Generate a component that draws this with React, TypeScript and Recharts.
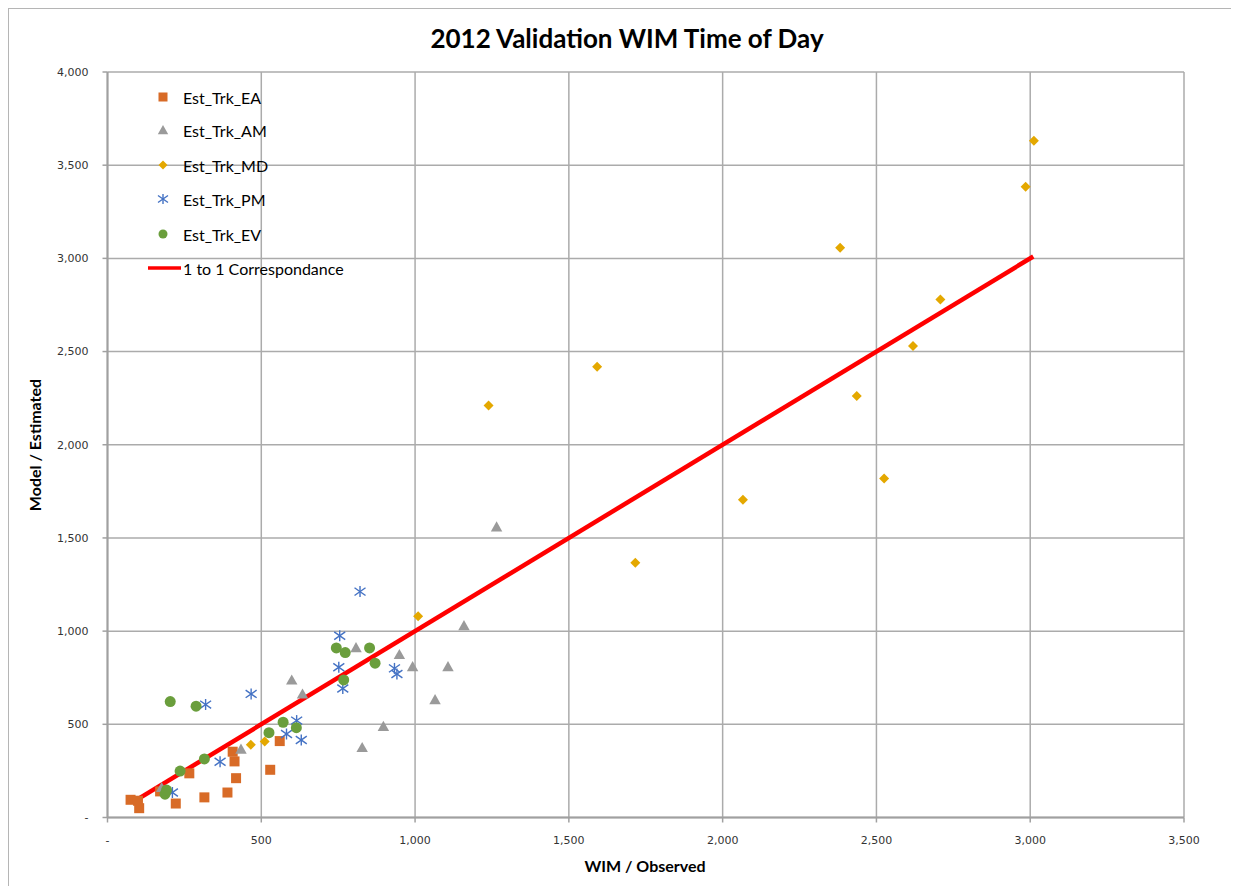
import React from 'react';
import { ScatterChart, Scatter, XAxis, YAxis, CartesianGrid } from 'recharts';

const X_TICKS = [0, 500, 1000, 1500, 2000, 2500, 3000, 3500];
const Y_TICKS = [0, 500, 1000, 1500, 2000, 2500, 3000, 3500, 4000];

const EA_X = [75, 99, 103, 171, 222, 266, 315, 390, 407, 413, 418, 529, 560];
const EA_Y = [95, 90, 50, 140, 75, 237, 108, 134, 353, 301, 211, 256, 410];

const AM_X = [176, 434, 599, 634, 808, 828, 897, 949, 992, 1065, 1107, 1159, 1265];
const AM_Y = [161, 367, 738, 663, 912, 376, 489, 875, 810, 633, 810, 1030, 1560];

const MD_X = [466, 511, 1010, 1239, 1592, 1716, 2066, 2382, 2436, 2525, 2619, 2708, 2985, 3012];
const MD_Y = [391, 408, 1080, 2211, 2418, 1367, 1705, 3057, 2261, 1819, 2530, 2780, 3384, 3631];

const PM_X = [211, 319, 366, 467, 582, 615, 630, 752, 755, 765, 821, 933, 941];
const PM_Y = [134, 606, 299, 663, 448, 520, 416, 806, 975, 692, 1212, 800, 770];

const EV_X = [187, 192, 204, 236, 288, 315, 525, 571, 614, 744, 773, 768, 852, 870];
const EV_Y = [125, 147, 622, 249, 597, 314, 455, 511, 482, 910, 885, 738, 910, 828];

const LINE_X = [100, 3010];
const LINE_Y = [100, 3010];

const SERIES_NAMES = ['Est_Trk_EA', 'Est_Trk_AM', 'Est_Trk_MD', 'Est_Trk_PM', 'Est_Trk_EV', '1 to 1 Correspondance'];

const C_EA = '#D86B27';
const C_AM = '#9A9A9A';
const C_MD = '#E4A800';
const C_PM = '#4472C4';
const C_EV = '#6A9E3C';
const C_LINE = '#FF0000';

const toPoints = (xs: number[], ys: number[]) => xs.map((x, i) => ({ x, y: ys[i] }));

const fmt = (v: number) => (v === 0 ? '-' : v.toLocaleString('en-US'));

const SquareMark = ({ cx, cy, s = 10 }: any) => <rect x={cx - s / 2} y={cy - s / 2} width={s} height={s} fill={C_EA} />;
const TriMark = ({ cx, cy, s = 11 }: any) => (
  <polygon points={`${cx},${cy - s * 0.5} ${cx + s * 0.52},${cy + s * 0.42} ${cx - s * 0.52},${cy + s * 0.42}`} fill={C_AM} />
);
const DiamondMark = ({ cx, cy, s = 10 }: any) => (
  <polygon points={`${cx},${cy - s / 2} ${cx + s / 2},${cy} ${cx},${cy + s / 2} ${cx - s / 2},${cy}`} fill={C_MD} />
);
const StarMark = ({ cx, cy, s = 11 }: any) => {
  const h = s / 2;
  return (
    <g stroke={C_PM} strokeWidth={1.4}>
      <line x1={cx} y1={cy - h} x2={cx} y2={cy + h} />
      <line x1={cx - h} y1={cy - h * 0.7} x2={cx + h} y2={cy + h * 0.7} />
      <line x1={cx - h} y1={cy + h * 0.7} x2={cx + h} y2={cy - h * 0.7} />
    </g>
  );
};
const CircleMark = ({ cx, cy, s = 11 }: any) => <circle cx={cx} cy={cy} r={s / 2} fill={C_EV} />;

const guard = (Comp: any) => (props: any) =>
  props.cx == null || props.cy == null ? <g /> : <Comp cx={props.cx} cy={props.cy} />;

const LegendRow = ({ top, name, mark }: any) => (
  <div style={{ position: 'absolute', left: 128, top: top - 12, height: 24, display: 'flex', alignItems: 'center' }}>
    <svg width={46} height={24} style={{ display: 'block' }}>{mark}</svg>
    <span style={{ fontFamily: 'Lato, "Open Sans", sans-serif', fontSize: 16, color: '#000', whiteSpace: 'nowrap' }}>{name}</span>
  </div>
);

export default function App() {
  const ea = toPoints(EA_X, EA_Y);
  const am = toPoints(AM_X, AM_Y);
  const md = toPoints(MD_X, MD_Y);
  const pm = toPoints(PM_X, PM_Y);
  const ev = toPoints(EV_X, EV_Y);
  const ln = toPoints(LINE_X, LINE_Y);

  const tickStyle = { fontFamily: '"DejaVu Sans", Verdana, sans-serif', fontSize: 11, fill: '#333' };
  const legendTops = [88, 121, 156, 190, 225, 259];

  return (
    <div
      style={{
        position: 'relative',
        width: 1231,
        height: 878,
        boxSizing: 'border-box',
        borderTop: '1px solid #b5b5b5',
        borderLeft: '1px solid #b5b5b5',
        overflow: 'hidden',
        background: '#fff',
      }}
    >
      <div
        style={{
          position: 'absolute',
          left: 0,
          width: 1236,
          top: 13,
          height: 32,
          lineHeight: '32px',
          textAlign: 'center',
          fontFamily: 'Lato, "Open Sans", sans-serif',
          fontWeight: 700,
          fontSize: 26,
          color: '#000',
        }}
      >
        2012 Validation WIM Time of Day
      </div>
      <div style={{ position: 'absolute', left: 0, top: 0 }}>
        <ScatterChart width={1230} height={877} margin={{ top: 63, right: 55, left: 0, bottom: 28.5 }}>
          <CartesianGrid stroke="#ababab" strokeWidth={1.5} horizontalValues={Y_TICKS} verticalValues={X_TICKS} />
          <XAxis
            type="number"
            dataKey="x"
            domain={[0, 3500]}
            ticks={X_TICKS}
            tickFormatter={fmt}
            height={40}
            tick={tickStyle}
            tickSize={5}
            tickMargin={14}
            axisLine={{ stroke: '#a0a0a0', strokeWidth: 2 }}
            tickLine={{ stroke: '#a0a0a0', strokeWidth: 1.5 }}
            allowDataOverflow
          />
          <YAxis
            type="number"
            dataKey="y"
            domain={[0, 4000]}
            ticks={Y_TICKS}
            tickFormatter={fmt}
            width={98.5}
            tick={tickStyle}
            tickSize={5}
            tickMargin={14}
            axisLine={{ stroke: '#a0a0a0', strokeWidth: 2 }}
            tickLine={{ stroke: '#a0a0a0', strokeWidth: 1.5 }}
            allowDataOverflow
          />
          <Scatter
            name={SERIES_NAMES[5]}
            data={ln}
            line={{ stroke: C_LINE, strokeWidth: 4.5 }}
            lineType="joint"
            shape={() => <g />}
            isAnimationActive={false}
          />
          <Scatter name={SERIES_NAMES[0]} data={ea} shape={guard(SquareMark)} isAnimationActive={false} />
          <Scatter name={SERIES_NAMES[1]} data={am} shape={guard(TriMark)} isAnimationActive={false} />
          <Scatter name={SERIES_NAMES[2]} data={md} shape={guard(DiamondMark)} isAnimationActive={false} />
          <Scatter name={SERIES_NAMES[3]} data={pm} shape={guard(StarMark)} isAnimationActive={false} />
          <Scatter name={SERIES_NAMES[4]} data={ev} shape={guard(CircleMark)} isAnimationActive={false} />
        </ScatterChart>
      </div>

      <LegendRow top={legendTops[0]} name={SERIES_NAMES[0]} mark={<SquareMark cx={26} cy={12} s={9} />} />
      <LegendRow top={legendTops[1]} name={SERIES_NAMES[1]} mark={<TriMark cx={26} cy={12} s={10} />} />
      <LegendRow top={legendTops[2]} name={SERIES_NAMES[2]} mark={<DiamondMark cx={26} cy={12} s={9} />} />
      <LegendRow top={legendTops[3]} name={SERIES_NAMES[3]} mark={<StarMark cx={26} cy={12} s={10} />} />
      <LegendRow top={legendTops[4]} name={SERIES_NAMES[4]} mark={<CircleMark cx={26} cy={12} s={9} />} />
      <LegendRow
        top={legendTops[5]}
        name={SERIES_NAMES[5]}
        mark={<line x1={11} y1={12} x2={44} y2={12} stroke={C_LINE} strokeWidth={3.5} />}
      />

      <div
        style={{
          position: 'absolute',
          left: 536,
          width: 200,
          top: 846,
          height: 22,
          lineHeight: '22px',
          textAlign: 'center',
          fontFamily: 'Lato, "Open Sans", sans-serif',
          fontWeight: 700,
          fontSize: 16,
          color: '#000',
        }}
      >
        WIM / Observed
      </div>
      <div
        style={{
          position: 'absolute',
          left: 26 - 100,
          width: 200,
          top: 436 - 11,
          height: 22,
          lineHeight: '22px',
          textAlign: 'center',
          transform: 'rotate(-90deg)',
          fontFamily: 'Lato, "Open Sans", sans-serif',
          fontWeight: 700,
          fontSize: 16,
          color: '#000',
        }}
      >
        Model / Estimated
      </div>
    </div>
  );
}
